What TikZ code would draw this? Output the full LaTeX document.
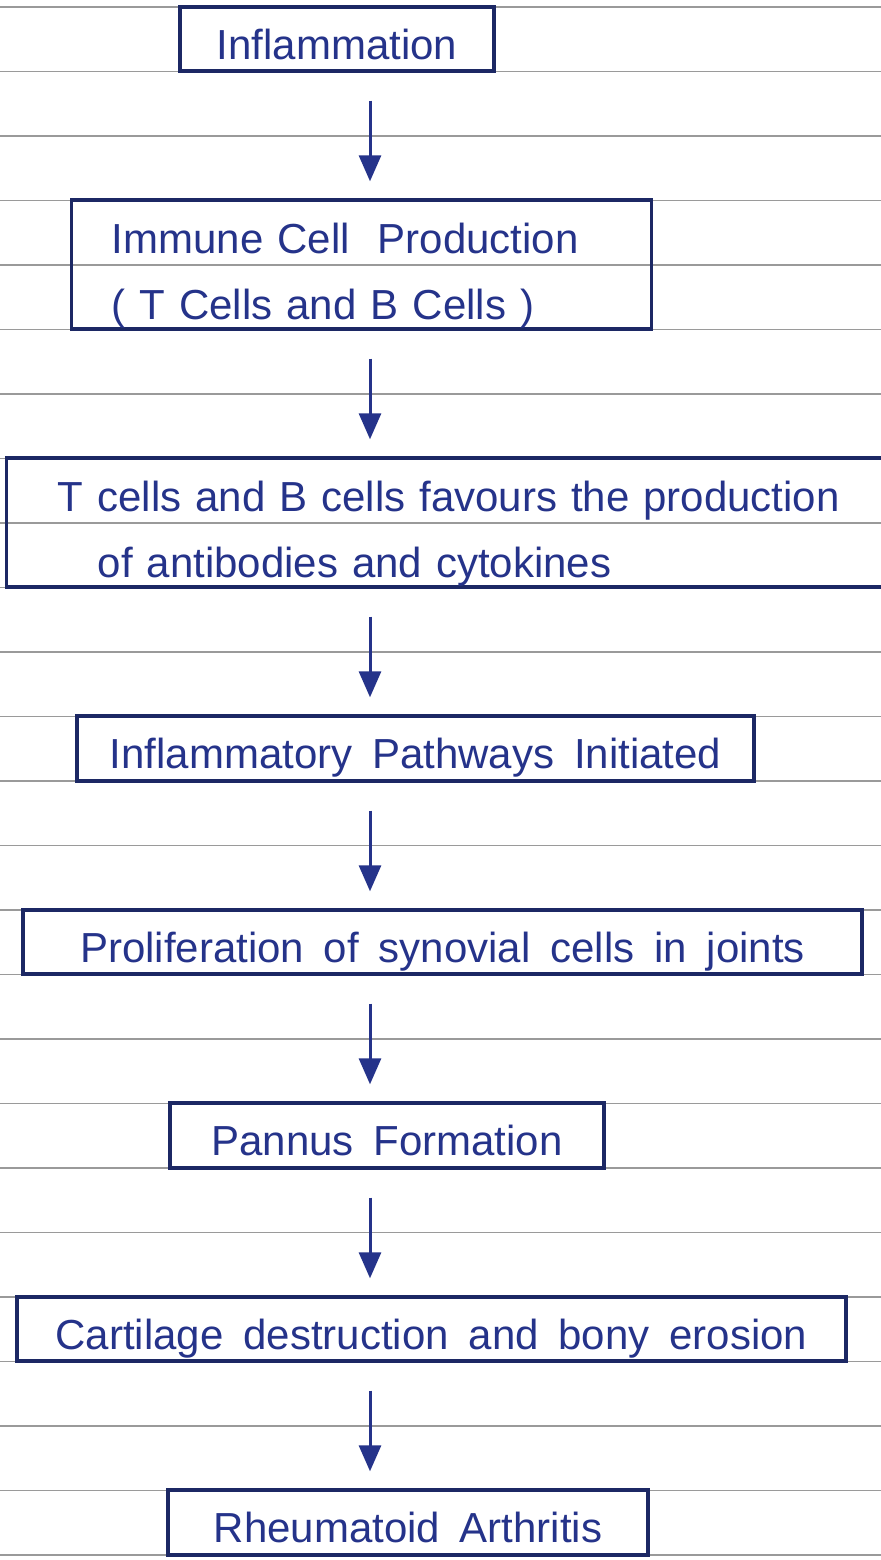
\documentclass[tikz,border=0pt]{standalone}
\usepackage{fontspec}
\setmainfont{Liberation Sans}[WordSpace=1.7]
\usepackage{xcolor}
\usetikzlibrary{arrows.meta}
\definecolor{inkcolor}{HTML}{25338A}
\definecolor{framecolor}{HTML}{1C2864}
\definecolor{rulecolor}{HTML}{9A9A9A}

\begin{document}
\begin{tikzpicture}[x=0.5pt, y=-0.5pt,
    stage/.style={rectangle, draw=framecolor, line width=1.7pt, text=inkcolor, font=\fontsize{21}{33}\selectfont, text height=20pt, text depth=0pt, inner sep=0pt},
    twoline/.style={stage, anchor=west, align=left, text width=#1, text height=22pt, text depth=33pt},
    flow/.style={-{Triangle[length=13pt, width=11pt]}, line width=1.5pt, draw=inkcolor, shorten <=14pt, shorten >=8.5pt},
    rule/.style={draw=rulecolor, line width=0.8pt}
]
\fill[white] (0,0) rectangle (881,1560);
\useasboundingbox (0,0) rectangle (881,1560);
% ruled paper
\foreach \k in {0,...,24}
    \draw[rule] (0,{7+64.5*\k}) -- (881,{7+64.5*\k});
\coordinate (spine) at (370,0);
\node[stage, minimum width=157pt, minimum height=32pt] (inflam) at (337,39) {Inflammation};
\node[twoline=250pt, inner xsep=20pt, minimum height=64.5pt] (immune) at (70,264.5) {Immune Cell\ \ Production\\( T Cells and B Cells )};
\node[twoline=420pt, inner xsep=25.5pt, minimum height=64.5pt] (cytok) at (5,522.5) {T cells and B cells favours the production\\\hspace*{20pt}of antibodies and cytokines};
\node[stage, minimum width=338.5pt, minimum height=32.5pt] (pathway) at (415.5,748.5) {Inflammatory Pathways Initiated};
\node[stage, minimum width=419.5pt, minimum height=32pt] (synov) at (442.5,942) {Proliferation of synovial cells in joints};
\node[stage, minimum width=217pt, minimum height=32.5pt] (pannus) at (387,1135.5) {Pannus Formation};
\node[stage, minimum width=414.5pt, minimum height=32pt] (cartil) at (431.5,1329) {Cartilage destruction and bony erosion};
\node[stage, minimum width=240pt, minimum height=32.5pt] (arthr) at (408,1522.5) {Rheumatoid Arthritis};
\draw[flow] (inflam.south -| spine) -- (immune.north -| spine);
\draw[flow] (immune.south -| spine) -- (cytok.north -| spine);
\draw[flow] (cytok.south -| spine) -- (pathway.north -| spine);
\draw[flow] (pathway.south -| spine) -- (synov.north -| spine);
\draw[flow] (synov.south -| spine) -- (pannus.north -| spine);
\draw[flow] (pannus.south -| spine) -- (cartil.north -| spine);
\draw[flow] (cartil.south -| spine) -- (arthr.north -| spine);
\end{tikzpicture}
\end{document}
